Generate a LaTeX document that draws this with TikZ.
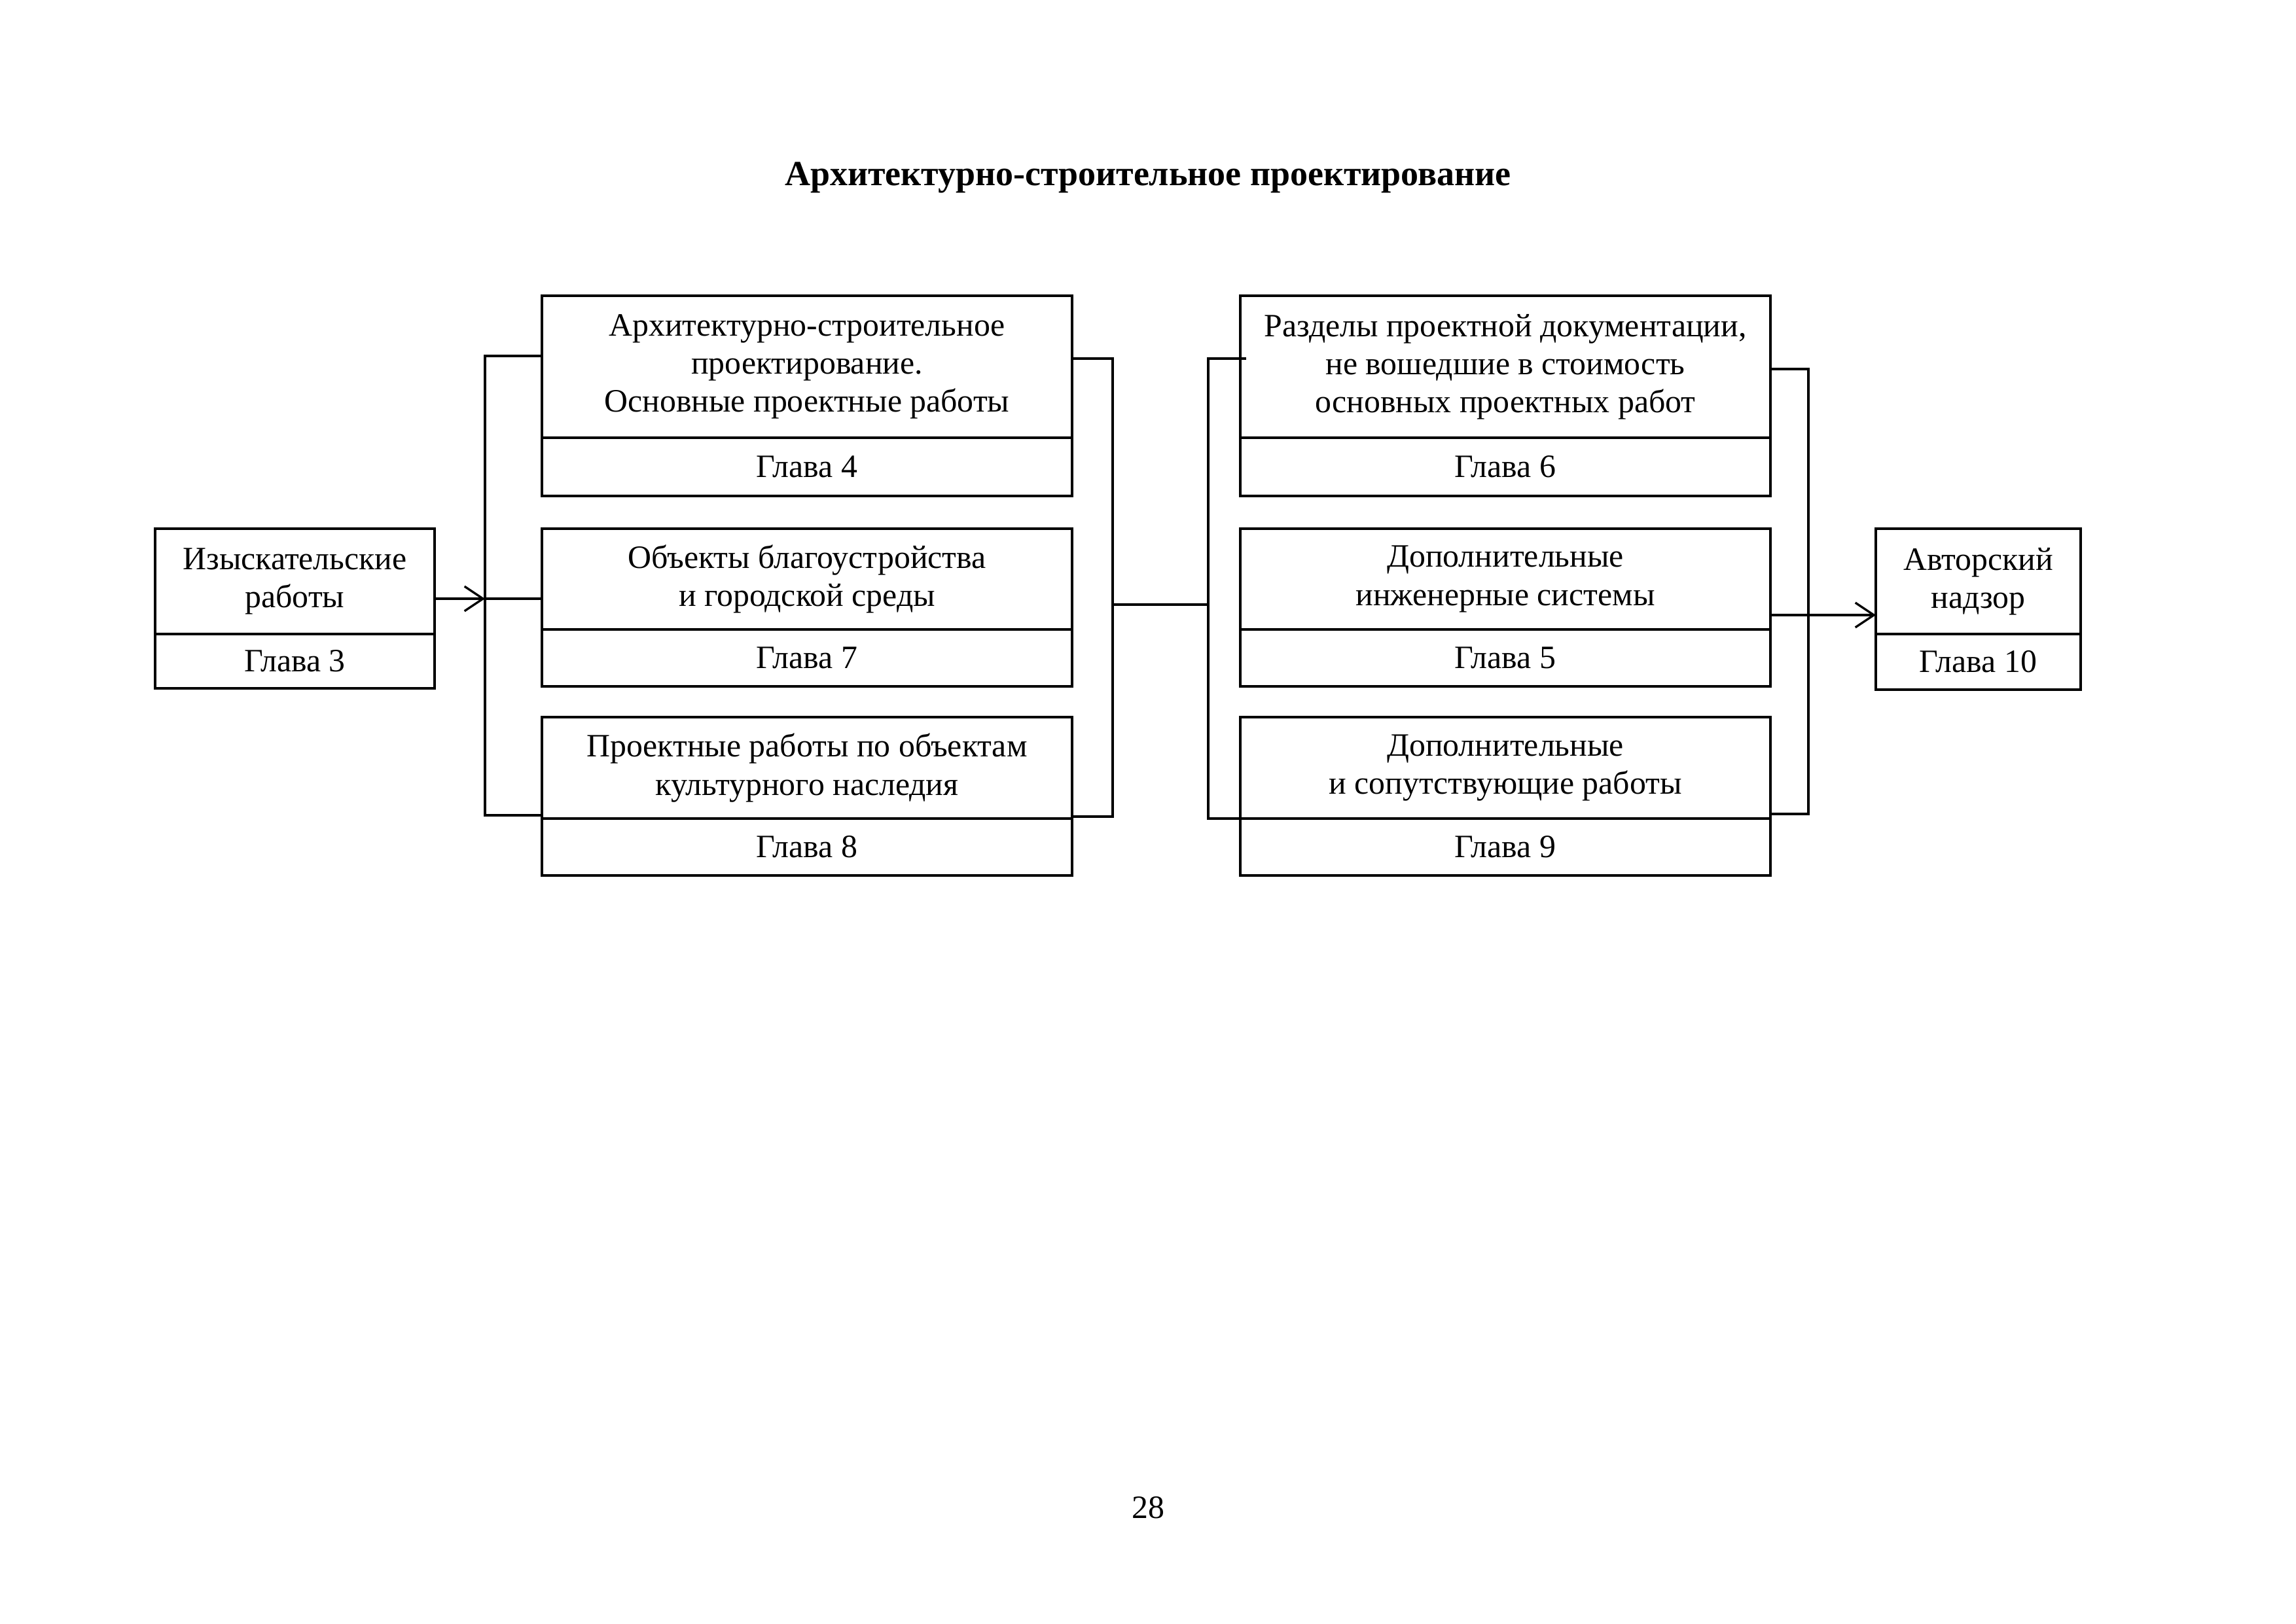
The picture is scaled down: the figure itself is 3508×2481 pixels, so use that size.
\documentclass[tikz,border=0pt]{standalone}
\usepackage{fontspec}
\setmainfont{Liberation Serif}
\usetikzlibrary{arrows.meta}
\def\pu{0.008466cm}
\begin{document}
\begin{tikzpicture}[x=0.008466cm,y=-0.008466cm,
  sect/.style={draw, line width=0.8pt, inner sep=0pt, outer sep=0pt, align=center,
    font=\fontsize{12}{14}\selectfont, anchor=north west},
  conn/.style={line width=0.8pt},
  arr/.style={conn, -{Straight Barb[length=2.4mm,width=3.2mm,line width=0.8pt]}},
  plain/.style={font=\fontsize{12}{14}\selectfont, inner sep=0pt}]
\useasboundingbox (0,0) rectangle (3508,2481);

\node[plain, font=\bfseries\fontsize{13}{15}\selectfont] (title) at (1754,271) {Архитектурно-строительное проектирование};
\node[plain] (pg) at (1754,2304) {28};

% left box
\node[sect, minimum width=427*\pu, minimum height=161*\pu] (I) at (237,808) {Изыскательские\\работы};
\node[sect, minimum width=427*\pu, minimum height=83*\pu] (Ig) at (237,969) {Глава 3};

% column 1
\node[sect, minimum width=810*\pu, minimum height=217*\pu] (A) at (828,452) {Архитектурно-строительное\\проектирование.\\Основные проектные работы};
\node[sect, minimum width=810*\pu, minimum height=89*\pu] (Ag) at (828,669) {Глава 4};
\node[sect, minimum width=810*\pu, minimum height=154*\pu] (B) at (828,808) {Объекты благоустройства\\и городской среды};
\node[sect, minimum width=810*\pu, minimum height=87*\pu] (Bg) at (828,962) {Глава 7};
\node[sect, minimum width=810*\pu, minimum height=155*\pu] (C) at (828,1096) {Проектные работы по объектам\\культурного наследия};
\node[sect, minimum width=810*\pu, minimum height=87*\pu] (Cg) at (828,1251) {Глава 8};

% column 2
\node[sect, minimum width=810*\pu, minimum height=217*\pu] (D) at (1895,452) {Разделы проектной документации,\\не вошедшие в стоимость\\основных проектных работ};
\node[sect, minimum width=810*\pu, minimum height=89*\pu] (Dg) at (1895,669) {Глава 6};
\node[sect, minimum width=810*\pu, minimum height=154*\pu] (E) at (1895,808) {Дополнительные\\инженерные системы};
\node[sect, minimum width=810*\pu, minimum height=87*\pu] (Eg) at (1895,962) {Глава 5};
\node[sect, minimum width=810*\pu, minimum height=155*\pu] (F) at (1895,1096) {Дополнительные\\и сопутствующие работы};
\node[sect, minimum width=810*\pu, minimum height=87*\pu] (Fg) at (1895,1251) {Глава 9};

% right box
\node[sect, minimum width=313*\pu, minimum height=161*\pu] (V) at (2866,808) {Авторский\\надзор};
\node[sect, minimum width=313*\pu, minimum height=85*\pu] (Vg) at (2866,969) {Глава 10};

% bracket coordinates
\coordinate (b1t) at (741,544);
\coordinate (b1m) at (741,915);
\coordinate (b1b) at (741,1246);
\coordinate (r1t) at (1700,548);
\coordinate (r1m) at (1700,924);
\coordinate (r1b) at (1700,1248);
\coordinate (l2t) at (1846,548);
\coordinate (l2m) at (1846,924);
\coordinate (l2b) at (1846,1251);
\coordinate (l2te) at (1904,548);
\coordinate (l2be) at (1904,1251);
\coordinate (r2t) at (2763,564);
\coordinate (r2m) at (2763,940);
\coordinate (r2b) at (2763,1244);

% connectors
\draw[arr] (I.east |- b1m) -- (b1m);
\draw[conn] (A.west |- b1t) -- (b1t) -- (b1b) -- (C.west |- b1b);
\draw[conn] (b1m) -- (B.west |- b1m);
\draw[conn] (A.east |- r1t) -- (r1t) -- (r1b) -- (C.east |- r1b);
\draw[conn] (r1m) -- (l2m);
\draw[conn] (l2te) -- (l2t) -- (l2b) -- (l2be);
\draw[conn] (D.east |- r2t) -- (r2t) -- (r2b) -- (F.east |- r2b);
\draw[arr] (E.east |- r2m) -- (V.west |- r2m);
\end{tikzpicture}
\end{document}
